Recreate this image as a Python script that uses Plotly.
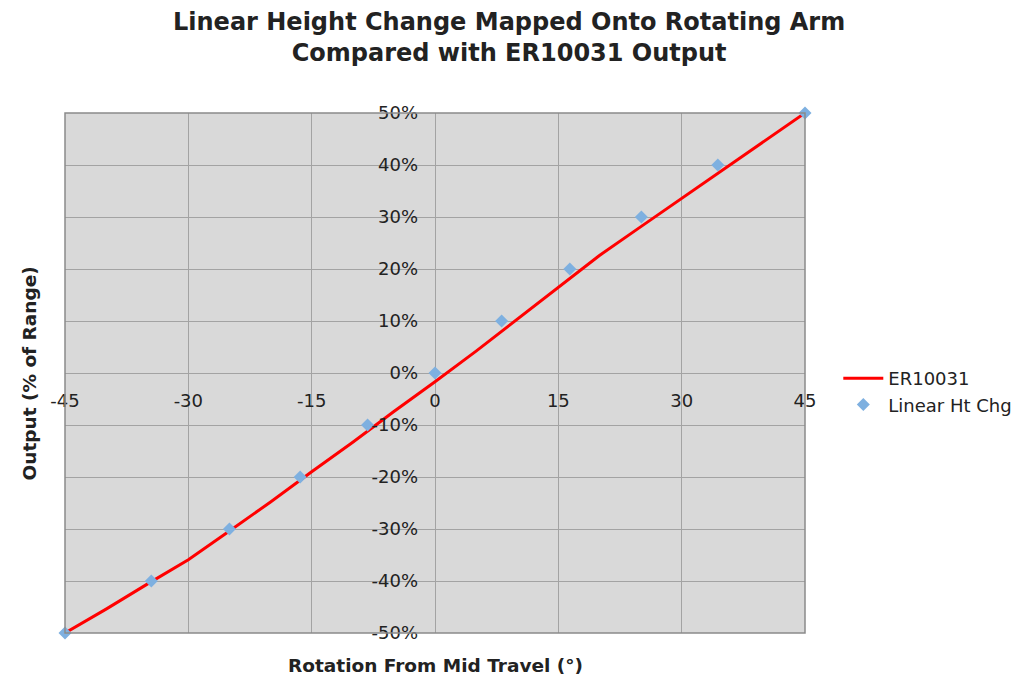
import plotly.graph_objects as go

# ER10031 output curve (rotation deg -> output %)
er_x = [-45, -40, -35, -30, -25, -20, -15, -10, -5, 0, 5, 10, 15, 20, 25, 30, 35, 40, 45]
er_y = [-50, -45.4, -40.6, -35.9, -30.4, -24.8, -19.0, -13.3, -7.4, -1.7,
        4.2, 10.3, 16.5, 22.6, 28.1, 33.6, 39.0, 44.5, 50]

# Linear height change points
lin_x = [-45, -34.5, -25.0, -16.4, -8.2, 0, 8.1, 16.4, 25.1, 34.4, 45]
lin_y = [-50, -40, -30, -20, -10, 0, 10, 20, 30, 40, 50]

x_ticks = [-45, -30, -15, 0, 15, 30, 45]
y_ticks = [-50, -40, -30, -20, -10, 0, 10, 20, 30, 40, 50]
y_tick_labels = [f"{v}%" for v in y_ticks]

FONT = "Verdana, DejaVu Sans, sans-serif"
GRID = "#a3a3a3"
TXT = "#222222"

fig = go.Figure()
fig.add_trace(go.Scatter(
    x=er_x, y=er_y, mode="lines", name="ER10031",
    line=dict(color="#ff0000", width=3), cliponaxis=False))
fig.add_trace(go.Scatter(
    x=lin_x, y=lin_y, mode="markers", name="Linear Ht Chg",
    marker=dict(symbol="diamond", color="#7eb0e0", size=10), cliponaxis=False))

fig.update_layout(
    width=1016, height=685,
    margin=dict(l=57, r=219, t=105, b=60, pad=0, autoexpand=False),
    paper_bgcolor="white", plot_bgcolor="#d9d9d9",
    font=dict(family=FONT, size=18, color=TXT),
    showlegend=True,
    legend=dict(x=1.045, xanchor="left", y=0.525, yanchor="top",
                font=dict(family=FONT, size=18, color=TXT),
                bgcolor="rgba(0,0,0,0)", itemwidth=40, tracegroupgap=0),
    xaxis=dict(range=[-45, 45], tickvals=x_ticks, ticktext=[str(v) for v in x_ticks],
               showgrid=True, gridcolor=GRID, gridwidth=1,
               zeroline=True, zerolinecolor=GRID, zerolinewidth=1,
               showline=False, ticks="", anchor="free", position=0.5,
               ticklabelstandoff=15, domain=[0, 1]),
    yaxis=dict(range=[-50, 50], tickvals=y_ticks, ticktext=y_tick_labels,
               showgrid=True, gridcolor=GRID, gridwidth=1,
               zeroline=True, zerolinecolor=GRID, zerolinewidth=1,
               showline=False, ticks="", anchor="free", position=0.5,
               ticklabelstandoff=17, domain=[0, 1]),
    shapes=[dict(type="rect", xref="paper", yref="paper", x0=0, y0=0, x1=1, y1=1,
                 line=dict(color="#8a8a8a", width=1.5), fillcolor="rgba(0,0,0,0)", layer="above")],
    annotations=[
        dict(text="<b>Linear Height Change Mapped Onto Rotating Arm<br>Compared with ER10031 Output</b>",
             xref="paper", yref="paper", x=0.6, y=1.146, xanchor="center", yanchor="middle",
             showarrow=False, font=dict(family=FONT, size=24, color=TXT)),
        dict(text="<b>Rotation From Mid Travel (°)</b>", xref="paper", yref="paper",
             x=0.5, y=-0.062, xanchor="center", yanchor="middle", showarrow=False,
             font=dict(family=FONT, size=18.5, color=TXT)),
        dict(text="<b>Output (% of Range)</b>", xref="paper", yref="paper",
             x=-0.048, y=0.5, xanchor="center", yanchor="middle", showarrow=False,
             textangle=-90, font=dict(family=FONT, size=18.5, color=TXT)),
    ],
)

fig.write_html("out.html")
